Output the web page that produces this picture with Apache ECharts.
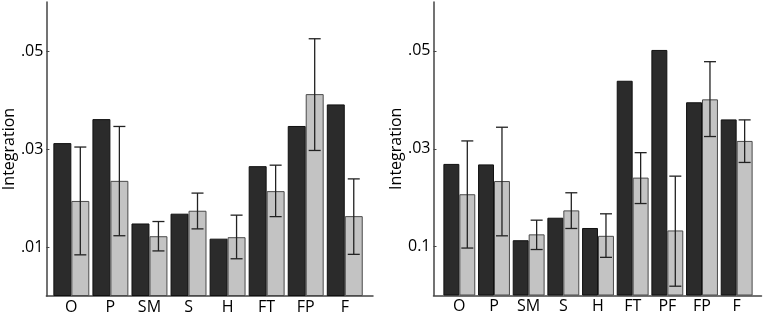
<!DOCTYPE html>
<html>
<head>
<meta charset="utf-8">
<script src="https://cdn.jsdelivr.net/npm/echarts@6/dist/echarts.min.js"></script>
<style>
  html, body { margin: 0; padding: 0; background: #fff; }
  #chart { width: 765px; height: 315px; }
</style>
</head>
<body>
<div id="chart"></div>
<script>
// ── Data ──────────────────────────────────────────────────────────────────
const leftCats = ['O', 'P', 'SM', 'S', 'H', 'FT', 'FP', 'F'];
const leftDark = [0.0312, 0.0361, 0.0148, 0.0168, 0.0117, 0.0265, 0.0347, 0.0391];
const leftGray = [0.0194, 0.0235, 0.0122, 0.0174, 0.0120, 0.0214, 0.0412, 0.0163];
const leftErrLow = [0.0084, 0.0123, 0.0092, 0.0137, 0.0076, 0.0162, 0.0297, 0.0085];
const leftErrHigh = [0.0304, 0.0346, 0.0152, 0.0210, 0.0165, 0.0267, 0.0525, 0.0239];

const rightCats = ['O', 'P', 'SM', 'S', 'H', 'FT', 'PF', 'FP', 'F'];
const rightDark = [0.0269, 0.0268, 0.0113, 0.0159, 0.0138, 0.0439, 0.0502, 0.0395, 0.0360];
const rightGray = [0.0207, 0.0234, 0.0125, 0.0174, 0.0122, 0.0241, 0.0133, 0.0401, 0.0316];
const rightErrLow = [0.0097, 0.0122, 0.0094, 0.0137, 0.0078, 0.0188, 0.0019, 0.0325, 0.0272];
const rightErrHigh = [0.0316, 0.0344, 0.0154, 0.0210, 0.0167, 0.0292, 0.0244, 0.0478, 0.0359];

const tickValues = [0.01, 0.03, 0.05];
const leftTickLabels = ['.01', '.03', '.05'];
const rightTickLabels = ['0.1', '.03', '.05'];

const Y_MAX = 0.06;
const GAP = 0.08;
const FONT = '"Open Sans", "Noto Sans", sans-serif';

// ── Helpers ───────────────────────────────────────────────────────────────

function frameAxes(gridIndex, labels) {
  const x = {
    gridIndex, type: 'value', min: 0, max: 1,
    axisLine: { show: true, lineStyle: { color: '#444', width: 1.5 } },
    axisTick: { show: false }, axisLabel: { show: false }, splitLine: { show: false },
  };
  const y = {
    gridIndex, type: 'value', min: 0, max: Y_MAX,
    name: 'Integration', nameLocation: 'middle', nameGap: 27,
    nameTextStyle: { fontFamily: FONT, fontSize: 16, color: '#000' },
    axisLine: { show: true, lineStyle: { color: '#444', width: 1.5 } },
    axisTick: { show: true, inside: true, length: 3, customValues: tickValues, lineStyle: { color: '#444' } },
    axisLabel: {
      customValues: tickValues, margin: 3,
      fontFamily: FONT, fontSize: 16, color: '#000',
      formatter: v => labels[tickValues.indexOf(v)] ?? '',
    },
    splitLine: { show: false },
  };
  return { x, y };
}

function barAxes(gridIndex, cats) {
  const x = {
    gridIndex, type: 'category', data: cats,
    axisLine: { show: false }, axisTick: { show: false },
    axisLabel: { margin: 3, fontFamily: FONT, fontSize: 16, color: '#000', interval: 0 },
  };
  const y = { gridIndex, type: 'value', min: 0, max: Y_MAX, show: false };
  return { x, y };
}

function errorSeries(axisIndex, low, high) {
  return {
    type: 'custom', xAxisIndex: axisIndex, yAxisIndex: axisIndex, z: 5,
    data: low.map((l, i) => [i, l, high[i]]),
    encode: { x: 0, y: [1, 2] },
    renderItem(params, api) {
      const c = api.value(0);
      const lo = api.coord([c, api.value(1)]);
      const hi = api.coord([c, api.value(2)]);
      const band = api.size([1, 0])[0];
      const bw = band * (1 - GAP) / 2;
      const x = lo[0] + bw / 2;
      const cap = 6;
      const style = { stroke: '#222', lineWidth: 1.3 };
      return {
        type: 'group',
        children: [
          { type: 'line', shape: { x1: x, y1: lo[1], x2: x, y2: hi[1] }, style },
          { type: 'line', shape: { x1: x - cap, y1: lo[1], x2: x + cap, y2: lo[1] }, style },
          { type: 'line', shape: { x1: x - cap, y1: hi[1], x2: x + cap, y2: hi[1] }, style },
        ],
      };
    },
  };
}

function barSeries(axisIndex, dark, gray) {
  return [
    {
      type: 'bar', xAxisIndex: axisIndex, yAxisIndex: axisIndex, data: dark,
      barGap: '0%', barCategoryGap: (GAP * 100) + '%',
      itemStyle: { color: '#2b2b2b', borderColor: '#111', borderWidth: 1 },
    },
    {
      type: 'bar', xAxisIndex: axisIndex, yAxisIndex: axisIndex, data: gray,
      barGap: '0%', barCategoryGap: (GAP * 100) + '%',
      itemStyle: { color: '#c3c3c3', borderColor: '#4a4a4a', borderWidth: 1 },
    },
  ];
}

// ── Chart ─────────────────────────────────────────────────────────────────

const chart = echarts.init(document.getElementById('chart'), null, { renderer: 'canvas' });

const lf = frameAxes(0, leftTickLabels);
const lb = barAxes(1, leftCats);
const rf = frameAxes(2, rightTickLabels);
const rb = barAxes(3, rightCats);

chart.setOption({
  animation: false,
  backgroundColor: '#fff',
  grid: [
    { left: 43, top: 2, width: 330, height: 294 },
    { left: 51.8, top: 2, width: 312.5, height: 294 },
    { left: 433.5, top: 2, width: 328, height: 293.5 },
    { left: 442, top: 2, width: 312, height: 293.5 },
  ],
  xAxis: [lf.x, lb.x, rf.x, rb.x],
  yAxis: [lf.y, lb.y, rf.y, rb.y],
  series: [
    ...barSeries(1, leftDark, leftGray),
    errorSeries(1, leftErrLow, leftErrHigh),
    ...barSeries(3, rightDark, rightGray),
    errorSeries(3, rightErrLow, rightErrHigh),
  ],
});
</script>
</body>
</html>
